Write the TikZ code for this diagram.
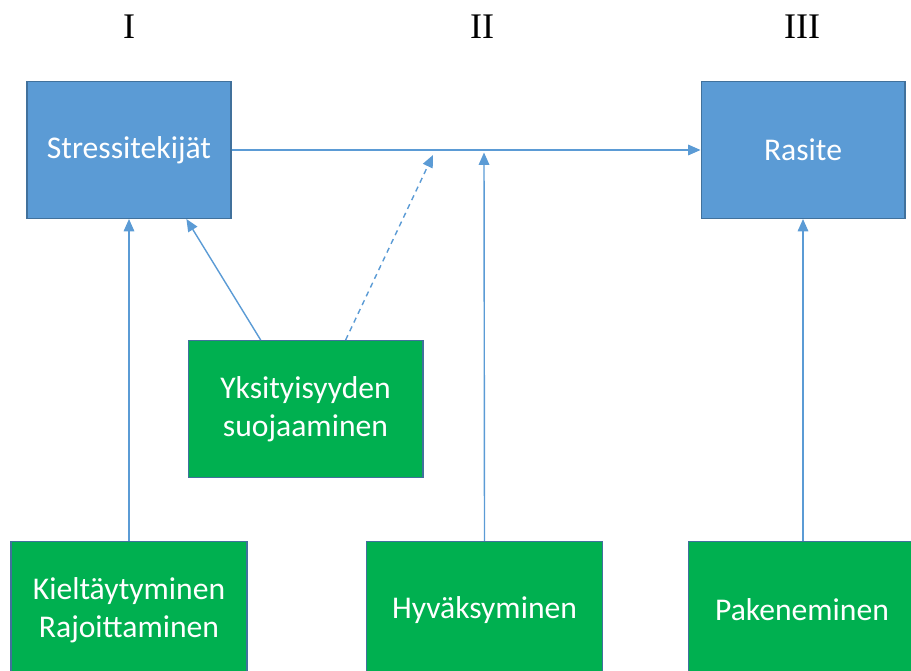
\documentclass[tikz,border=0pt]{standalone}
\usepackage{fontspec}
\setsansfont{Carlito}
\newfontfamily\romanfont{Liberation Serif}
\usepackage{tikz}
\usetikzlibrary{calc,arrows.meta}
\definecolor{stressblue}{HTML}{5B9BD5}
\definecolor{copegreen}{HTML}{00B050}
\definecolor{edgeblue}{HTML}{41719C}
\tikzset{>={Stealth[inset=0pt,length=7pt,width=6pt]}}
\tikzset{
  stressbox/.style={draw=edgeblue,line width=0.6pt,fill=stressblue,text=white,
    minimum width=4.08cm,minimum height=2.74cm,inner sep=0pt,align=center,
    font=\sffamily\fontsize{18}{21.5}\selectfont},
  copebox/.style={stressbox,fill=copegreen,minimum width=4.72cm},
  phase/.style={font=\romanfont\fontsize{20.5}{24}\selectfont,inner sep=0pt},
  link/.style={line width=0.8pt,stressblue,->}
}

\begin{document}
\begin{tikzpicture}[x=0.02cm,y=-0.02cm]
    \useasboundingbox (0,0) rectangle (911,671);
    \clip (0,0) rectangle (911,671);
      % phases
      \node[phase] (p1) at (129,27) {I};
      \node[phase] (p2) at (482,27) {II};
      \node[phase] (p3) at (802,27) {III};
      % stress and strain
      \node[stressbox] (stress) at (129,150) {Stressitekijät};
      \node[stressbox] (rasite) at (803,150) {Rasite};
      % coping
      \node[copebox,minimum width=4.70cm] (yks) at (305.5,409) {Yksityisyyden\\suojaaminen};
      \node[copebox] (kielt) at (129,610) {Kieltäytyminen\\Rajoittaminen};
      \node[copebox] (hyv) at (484.5,610) {Hyväksyminen};
      \node[copebox,minimum width=4.56cm] (pak) at (802,610) {Pakeneminen};
      \coordinate (dashend) at (433,155);
      \coordinate (hyvend) at (484,152.5);
      % connectors
      \draw[link] (stress.east) -- (rasite.west);
      \draw[link] (kielt.north) -- (kielt.north |- stress.south);
      \draw[link] ($(yks.north west)!0.31!(yks.north east)$) -- ($(stress.south west)!0.78!(stress.south east)$);
      \draw[link,dash pattern=on 3pt off 2.5pt] ($(yks.north west)!0.67!(yks.north east)$) -- (dashend);
      \draw[link] (hyv.north) -- (hyvend);
      \draw[link] (pak.north -| rasite.south) -- (rasite.south);
     \end{tikzpicture}
\end{document}
